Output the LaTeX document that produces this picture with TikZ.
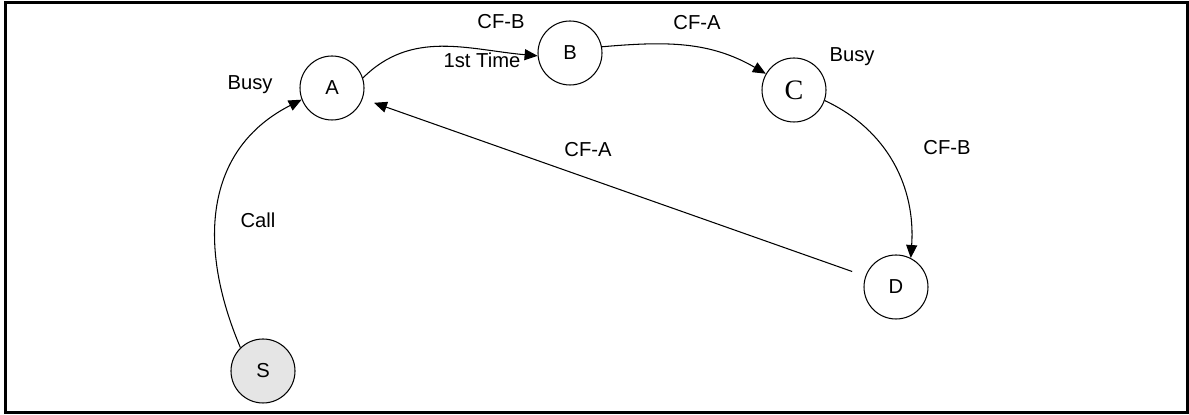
\documentclass[tikz,border=0pt]{standalone}
\usepackage{fontspec}
\setmainfont{Liberation Sans}
\newfontfamily\serifletter{Liberation Serif}
\usetikzlibrary{arrows.meta}

\begin{document}
\begin{tikzpicture}[x=0.2mm,y=0.2mm,
  state/.style={circle,draw,line width=0.6pt,minimum size=12.8mm,inner sep=0pt,font=\fontsize{11.5}{13}\selectfont},
  lbl/.style={inner sep=0pt,font=\fontsize{11.5}{13}\selectfont},
  trans/.style={line width=0.6pt,-{Triangle[length=2.6mm,width=2.2mm]}}]

%grid help
% \draw[gray, very thin] (0,0) grid[step=50] (1189,415);

\useasboundingbox (0,0) rectangle (1189,415);

% Frame
\draw[line width=0.6mm] (5.5,2) rectangle (1187.5,412.5);

%States
\node[state] (a) at (332,327) {A};
\node[state] (b) at (570,362) {B};
\node[state,font=\serifletter\fontsize{16}{18}\selectfont] (c) at (794,325) {C};
\node[state] (d) at (896,128) {D};
\node[state,fill=gray!20] (s) at (263,44) {S};

%Labels
\node[lbl] (busya) at (250,330) {Busy};
\node[lbl] (cfbtop) at (501,393) {CF-B};
\node[lbl] (first) at (482,355) {1st Time};
\node[lbl] (cfatop) at (697,392) {CF-A};
\node[lbl] (busyc) at (852,358) {Busy};
\node[lbl] (cfbright) at (947,267) {CF-B};
\node[lbl] (cfamid) at (588,265) {CF-A};
\node[lbl] (call) at (258,195) {Call};

%Transitions
\draw[trans] (s.134) to[out=113,in=207,looseness=1.1] (a.201);
\draw[trans] (a.18) to[out=45,in=175] (b.185);
\draw[trans] (b.11) to[out=5,in=150] (c.150);
\draw[trans] (c.-19) to[out=-25,in=86] (d.63);
% back to A, straight
\draw[trans,shorten <=2.8mm,shorten >=2.4mm] (d) -- (a);

\end{tikzpicture}
\end{document}
